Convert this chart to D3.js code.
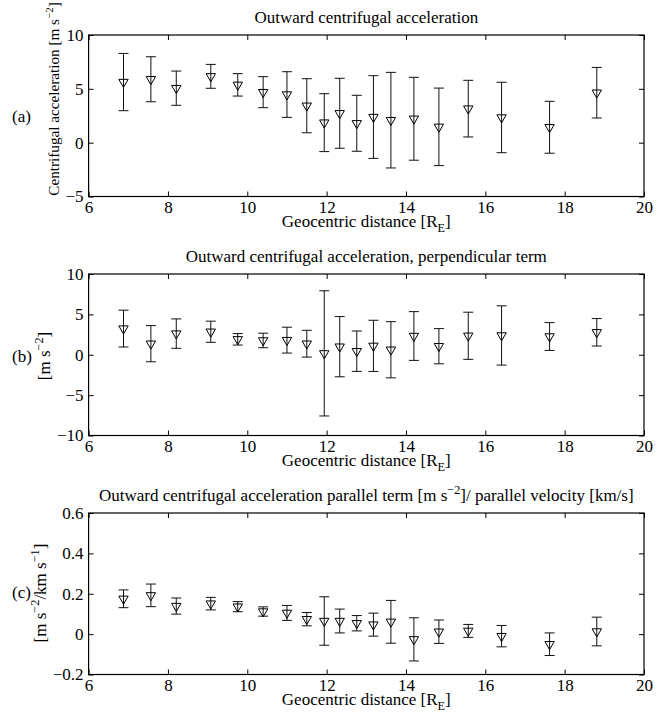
<!DOCTYPE html>
<html>
<head>
<meta charset="utf-8">
<script src="https://cdn.jsdelivr.net/npm/d3@7"></script>
<style>
  body { margin: 0; background: #fff; }
  svg text { font-family: "Liberation Serif", "DejaVu Serif", serif; fill: #000; }
</style>
</head>
<body>
<svg id="chart" width="667" height="713"></svg>
<script>
// geocentric distance of each bin [R_E]
var distance = [6.88, 7.57, 8.21, 9.08, 9.76, 10.40, 11.00, 11.50, 11.94, 12.33,
    12.76, 13.18, 13.62, 14.20, 14.83, 15.57, 16.41, 17.62, 18.81];

// (a) centrifugal acceleration
var accelMean = [5.63, 5.89, 5.06, 6.16, 5.37, 4.69, 4.47, 3.43, 1.86, 2.73,
    1.80, 2.38, 2.09, 2.22, 1.47, 3.16, 2.34, 1.43, 4.64];
var accelErr = [2.66, 2.09, 1.59, 1.11, 1.04, 1.44, 2.12, 2.51, 2.69, 3.25,
    2.60, 3.84, 4.44, 3.85, 3.60, 2.63, 3.27, 2.41, 2.35];

// (b) perpendicular term
var perpMean = [3.24, 1.37, 2.62, 2.85, 1.91, 1.77, 1.81, 1.37, 0.17, 1.00,
    0.44, 1.10, 0.62, 2.32, 1.06, 2.35, 2.39, 2.26, 2.78];
var perpErr = [2.28, 2.24, 1.82, 1.31, 0.71, 0.90, 1.60, 1.66, 7.75, 3.73,
    2.50, 3.17, 3.48, 3.02, 2.18, 2.92, 3.67, 1.72, 1.70];

// (c) parallel term / parallel velocity
var parMean = [0.175, 0.192, 0.139, 0.151, 0.136, 0.112, 0.105, 0.074, 0.065, 0.065,
    0.054, 0.047, 0.061, -0.026, 0.012, 0.016, -0.010, -0.050, 0.013];
var parErr = [0.044, 0.056, 0.040, 0.031, 0.025, 0.023, 0.037, 0.033, 0.120, 0.059,
    0.038, 0.057, 0.106, 0.107, 0.058, 0.032, 0.053, 0.056, 0.071];

var xTicks = [6, 8, 10, 12, 14, 16, 18, 20];
var xTickLabels = ['6', '8', '10', '12', '14', '16', '18', '20'];
var yTicksA = [-5, 0, 5, 10];
var yTickLabelsA = ['\u22125', '0', '5', '10'];
var yTicksB = [-10, -5, 0, 5, 10];
var yTickLabelsB = ['\u221210', '\u22125', '0', '5', '10'];
var yTicksC = [-0.2, 0, 0.2, 0.4, 0.6];
var yTickLabelsC = ['\u22120.2', '0', '0.2', '0.4', '0.6'];

(function () {

    var svg = d3.select('#chart');
    var left = 88.6, right = 644, panelH = 161.5;
    var fs = 17;

    var x = d3.scaleLinear().domain([6, 20]).range([left, right]);

    // text with super/subscripts, parts: [text, 'sup'|'sub'|null]
    function rich(sel, parts, size) {
        var shift = 0;
        parts.forEach(function (p) {
            var want = p[1] === 'sup' ? -size * 0.42 : p[1] === 'sub' ? size * 0.3 : 0;
            sel.append('tspan')
                .attr('dy', want - shift)
                .attr('font-size', p[1] ? size * 0.72 : size)
                .text(p[0]);
            shift = want;
        });
    }

    var panels = [{
        top: 35, mean: accelMean, err: accelErr, domain: [-5, 10],
        ticks: yTicksA, labels: yTickLabelsA, tag: '(a)', tagY: 117,
        title: [['Outward centrifugal acceleration']],
        ylab: [['Centrifugal acceleration [m s'], ['\u22122', 'sup'], [']']],
        ylabX: 59, ylabY: 99, ylabSize: 15.2
    }, {
        top: 274, mean: perpMean, err: perpErr, domain: [-10, 10],
        ticks: yTicksB, labels: yTickLabelsB, tag: '(b)', tagY: 357,
        title: [['Outward centrifugal acceleration, perpendicular term']],
        ylab: [['[m s'], ['\u22122', 'sup'], [']']],
        ylabX: 50, ylabY: 356, ylabSize: 17
    }, {
        top: 513, mean: parMean, err: parErr, domain: [-0.2, 0.6],
        ticks: yTicksC, labels: yTickLabelsC, tag: '(c)', tagY: 593,
        title: [['Outward centrifugal acceleration parallel term [m s'], ['\u22122', 'sup'],
            [']/ parallel velocity [km/s]']],
        ylab: [['[m s'], ['\u22122', 'sup'], ['/km s'], ['\u22121', 'sup'], [']']],
        ylabX: 46, ylabY: 593, ylabSize: 17
    }];

    panels.forEach(function (p) {
        var bottom = p.top + panelH;
        var y = d3.scaleLinear().domain(p.domain).range([bottom, p.top]);
        var g = svg.append('g');

        // axes, ticks inside on all four sides
        var ax = [
            [d3.axisBottom(x).tickValues(xTicks).tickFormat(function (d, i) { return xTickLabels[i]; }), 'translate(0,' + bottom + ')', 4],
            [d3.axisTop(x).tickValues(xTicks).tickFormat(''), 'translate(0,' + p.top + ')', 4],
            [d3.axisLeft(y).tickValues(p.ticks).tickFormat(function (d, i) { return p.labels[i]; }), 'translate(' + left + ',0)', 5],
            [d3.axisRight(y).tickValues(p.ticks).tickFormat(''), 'translate(' + right + ',0)', 5]
        ];
        ax.forEach(function (a) {
            var s = g.append('g')
                .attr('transform', a[1])
                .call(a[0].tickSizeInner(-5).tickSizeOuter(0).tickPadding(a[2]));
            s.select('.domain').remove();
            s.selectAll('line').attr('stroke', '#000');
            s.selectAll('text').attr('font-size', fs).attr('font-family', null);
        });

        g.append('rect')
            .attr('x', left).attr('y', p.top)
            .attr('width', right - left).attr('height', panelH)
            .attr('fill', 'none').attr('stroke', '#000').attr('stroke-width', 1.2);

        // error bars
        var pts = distance.map(function (d, i) {
            return { x: d, m: p.mean[i], e: p.err[i] };
        });
        var bars = g.append('g').attr('stroke', '#111').attr('stroke-width', 1).attr('fill', 'none');
        bars.selectAll('path')
            .data(pts).enter()
            .append('path')
            .attr('d', function (d) {
                var cx = x(d.x), y0 = y(d.m - d.e), y1 = y(d.m + d.e);
                return 'M' + cx + ',' + y0 + 'V' + y1 +
                    'M' + (cx - 5) + ',' + y1 + 'H' + (cx + 5) +
                    'M' + (cx - 5) + ',' + y0 + 'H' + (cx + 5);
            });

        // downward triangles
        g.selectAll('.mk')
            .data(pts).enter()
            .append('path')
            .attr('class', 'mk')
            .attr('d', d3.symbol(d3.symbolTriangle, 38))
            .attr('transform', function (d) {
                return 'translate(' + x(d.x) + ',' + y(d.m) + ') rotate(180)';
            })
            .attr('fill', 'none').attr('stroke', '#000').attr('stroke-width', 1);

        // title
        var t = g.append('text')
            .attr('x', (left + right) / 2).attr('y', p.top - 12)
            .attr('text-anchor', 'middle');
        rich(t, p.title, fs);

        // x label
        var xl = g.append('text')
            .attr('x', (left + right) / 2).attr('y', bottom + 30)
            .attr('text-anchor', 'middle');
        rich(xl, [['Geocentric distance [R'], ['E', 'sub'], [']']], fs);

        // y label
        var yl = g.append('text')
            .attr('transform', 'translate(' + p.ylabX + ',' + p.ylabY + ') rotate(-90)')
            .attr('text-anchor', 'middle');
        rich(yl, p.ylab, p.ylabSize);

        g.append('text')
            .attr('x', 12).attr('y', p.tagY + 5)
            .attr('font-size', fs)
            .text(p.tag);
    });

})();
</script>
</body>
</html>
